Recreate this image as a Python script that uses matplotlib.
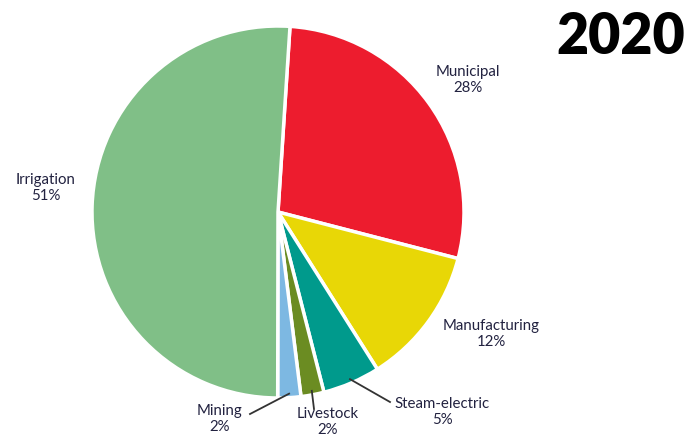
import numpy as np
import matplotlib
matplotlib.use("Agg")
import matplotlib.pyplot as plt

# Water use by sector, 2020 (percent)
sectors = ["Municipal", "Manufacturing", "Steam-electric", "Livestock", "Mining", "Irrigation"]
shares = [28, 12, 5, 2, 2, 51]
colors = ["#ED1C2E", "#E8D706", "#009A8C", "#6B8C22", "#7DB8E2", "#80BF87"]

# label anchor (pixel coords from top-left)
label_pos = {
    "Municipal": (468, 80),
    "Manufacturing": (491, 334),
    "Steam-electric": (442, 412),
    "Livestock": (328, 422),
    "Mining": (220, 419),
    "Irrigation": (46, 188),
}
# leader line end points for the thin slices
leaders = {
    "Steam-electric": (390, 402),
    "Livestock": (314, 409),
    "Mining": (250, 414),
}

W, H = 688, 442
cx, cy, r = 278, 212, 186

fig = plt.figure(figsize=(W / 100, H / 100), dpi=100)
ax = fig.add_axes([0, 0, 1, 1])

# y axis runs downward, so counterclock=True draws clockwise on screen
wedges, _ = ax.pie(shares, colors=colors, startangle=-86.3, counterclock=True,
                   center=(cx, cy), radius=r, frame=True,
                   wedgeprops=dict(edgecolor="white", linewidth=2.5))
ax.set_xlim(0, W)
ax.set_ylim(H, 0)
ax.set_aspect("equal")
ax.axis("off")

txt_color = "#222240"
for w, name, val in zip(wedges, sectors, shares):
    x, y = label_pos[name]
    ax.text(x, y, f"{name}\n{val}%", ha="center", va="center",
            fontsize=10.8, family="Lato", color=txt_color, linespacing=1.15)
    if name in leaders:
        mid = np.deg2rad((w.theta1 + w.theta2) / 2)
        sx = cx + (r - 4) * np.cos(mid)
        sy = cy + (r - 4) * np.sin(mid)
        ex, ey = leaders[name]
        ax.plot([sx, ex], [sy, ey], color="#333333", lw=1.3)

ax.text(621, 37, "2020", ha="center", va="center", fontsize=40,
        fontweight="heavy", family="Lato", color="black")

fig.savefig("out.png", dpi=100)
